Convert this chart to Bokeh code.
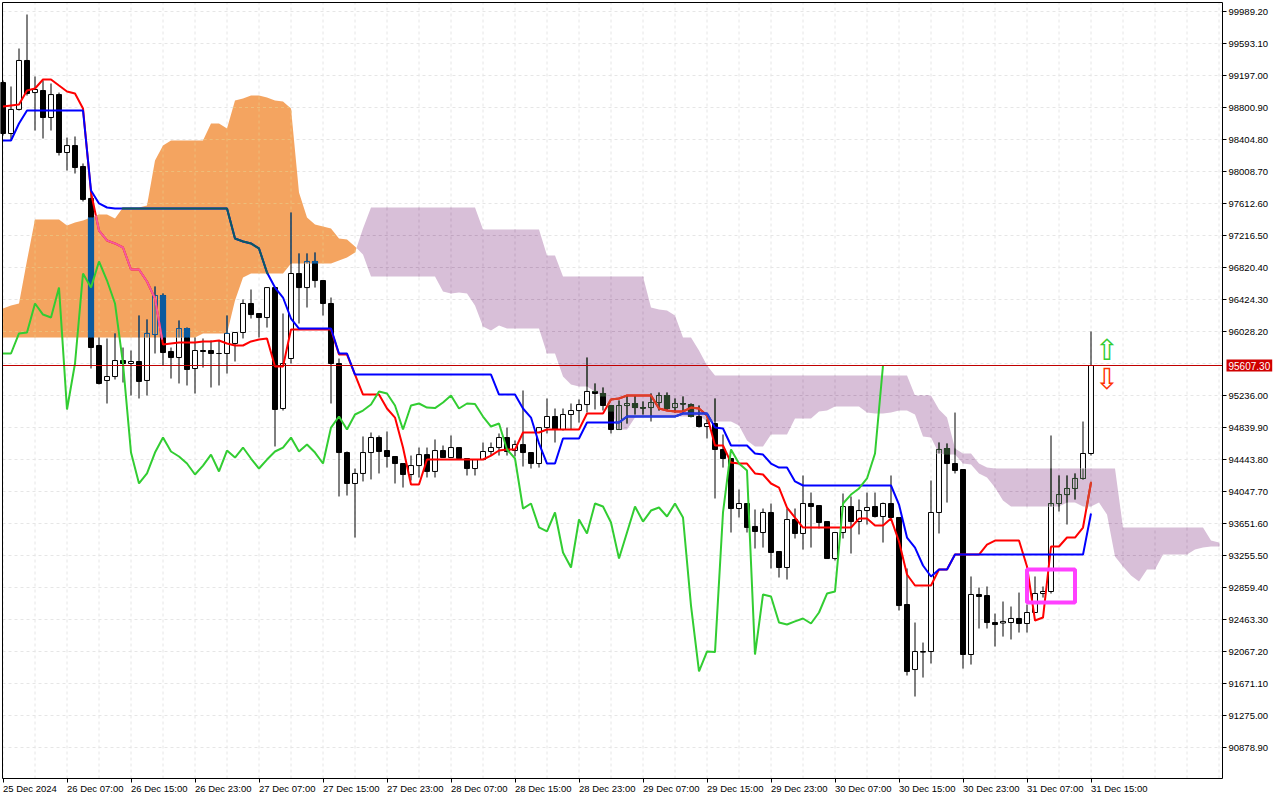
import numpy as np
from bokeh.plotting import figure
from bokeh.models import Range1d, FixedTicker, NumeralTickFormatter, LinearAxis, Text
from bokeh.embed import file_html
from bokeh.resources import INLINE
from bokeh.core.properties import value

# ---------------- data (BTCUSD, H1, first bar 2024-12-25 23:00) ----------------
opens = [99110, 98479, 98777, 99383, 98986, 99011, 98677, 98961, 98244, 98330,
         98071, 97675, 95855, 95422, 95471, 95669, 95632, 95657, 95422, 95991,
         96474, 95781, 95706, 96065, 95570, 95793, 95793, 95756, 95756, 95880,
         96016, 96375, 96251, 96201, 96572, 95075, 95694, 96746, 96572, 96895,
         96659, 96375, 95632, 94530, 94147, 94271, 94530, 94716, 94555, 94481,
         94394, 94258, 94369, 94505, 94296, 94555, 94468, 94592, 94456, 94332,
         94443, 94543, 94592, 94716, 94555, 94629, 94530, 94394, 94839, 94976,
         94815, 95001, 95050, 95124, 95286, 95261, 95112, 94815, 95112, 95137,
         95087, 95087, 95149, 95236, 95087, 95137, 95124, 94976, 94852, 94889,
         94568, 94456, 93837, 93899, 93615, 93540, 93788, 93305, 93107, 93701,
         93528, 93899, 93874, 93676, 93218, 93540, 93862, 93676, 93812, 93862,
         93738, 93899, 93726, 92649, 91844, 92067, 92067, 93788, 94580, 94394,
         94320, 92030, 92773, 92760, 92426, 92420, 92426, 92476, 92414, 92550,
         92785, 92810, 93899, 94010, 94085, 94209, 94518]
highs = [99135, 99061, 99531, 99952, 99185, 99135, 99098, 98986, 98429, 98442,
         98108, 97737, 95954, 95942, 96004, 95830, 95793, 96226, 96177, 96585,
         96499, 95830, 96164, 96077, 95954, 95942, 95917, 95917, 96226, 96016,
         96425, 96548, 96251, 96572, 96572, 96251, 97501, 96994, 96994, 97006,
         96659, 96449, 95694, 94543, 94332, 94729, 94778, 94741, 94791, 94481,
         94394, 94493, 94592, 94592, 94692, 94617, 94741, 94592, 94456, 94443,
         94654, 94654, 94766, 94839, 94679, 95298, 94530, 94839, 95199, 95075,
         95075, 95137, 95187, 95706, 95385, 95335, 95112, 95174, 95236, 95236,
         95162, 95261, 95273, 95273, 95199, 95224, 95137, 95112, 94939, 95199,
         94753, 94456, 94072, 93899, 93825, 93837, 93899, 93305, 93837, 93837,
         94246, 94035, 93874, 93676, 93540, 94023, 93986, 93949, 94035, 94035,
         93911, 94246, 93726, 93095, 92426, 92178, 94184, 94654, 94642, 95025,
         94320, 92996, 92859, 92872, 92537, 92686, 92624, 92797, 92649, 92996,
         92872, 94741, 94246, 94246, 94271, 94914, 96029]
lows = [98454, 98392, 98764, 98949, 98516, 98417, 98516, 98207, 98021, 97984,
        97638, 95570, 95372, 95137, 95434, 95397, 95236, 95199, 95236, 95756,
        95607, 95446, 95385, 95360, 95261, 95582, 95335, 95360, 95508, 95657,
        95942, 96189, 95954, 96077, 94605, 95050, 95632, 96127, 96325, 96572,
        96226, 95137, 93986, 93998, 93478, 94172, 94197, 94271, 94344, 94147,
        94097, 94184, 94221, 94221, 94221, 94468, 94468, 94456, 94246, 94246,
        94443, 94493, 94493, 94493, 94481, 94357, 94332, 94344, 94766, 94654,
        94803, 94815, 94901, 95025, 95063, 95050, 94766, 94815, 94889, 95001,
        95001, 94914, 95050, 95050, 95025, 95025, 94964, 94839, 94704, 93961,
        94344, 93540, 93726, 93540, 93342, 93354, 93095, 92983, 92958, 93466,
        93329, 93354, 93590, 93218, 93194, 93466, 93280, 93516, 93639, 93726,
        93416, 93726, 92575, 91770, 91510, 91745, 91919, 93528, 93911, 94271,
        91856, 91906, 92352, 92352, 92129, 92252, 92216, 92302, 92302, 92550,
        92735, 92785, 93800, 93639, 93949, 94197, 94493]
closes = [98479, 98777, 99383, 98974, 99024, 98677, 98961, 98244, 98330, 98058,
          97663, 95830, 95385, 95471, 95669, 95632, 95657, 95410, 96004, 96474,
          95768, 95706, 96065, 95558, 95793, 95781, 95756, 95756, 96004, 96016,
          96375, 96238, 96201, 96572, 95063, 95632, 96746, 96572, 96895, 96659,
          96375, 95632, 94530, 94147, 94271, 94530, 94716, 94543, 94481, 94394,
          94258, 94369, 94505, 94296, 94555, 94468, 94592, 94456, 94332, 94443,
          94543, 94592, 94716, 94543, 94629, 94530, 94394, 94839, 94976, 94815,
          95001, 95050, 95124, 95286, 95261, 95112, 94815, 95112, 95137, 95087,
          95080, 95149, 95236, 95075, 95137, 95130, 94976, 94852, 94889, 94568,
          94456, 93837, 93899, 93603, 93553, 93788, 93293, 93107, 93701, 93528,
          93899, 93862, 93664, 93218, 93540, 93862, 93676, 93812, 93850, 93738,
          93899, 93726, 92636, 91820, 92067, 92060, 93788, 94568, 94394, 94308,
          92030, 92773, 92748, 92426, 92401, 92440, 92476, 92414, 92550, 92785,
          92810, 93899, 94010, 94085, 94209, 94518, 95607.3]
tenkan = [98814, 98826, 98838, 99011, 99036, 99148, 99148, 99073, 98999, 98974,
          98789, 97749, 97278, 97155, 97118, 97068, 96796, 96796, 96647, 96437,
          95867, 95880, 95892, 95892, 95892, 95905, 95905, 95917, 95880, 95855,
          95855, 95905, 95930, 95942, 95595, 95595, 96053, 96053, 96053, 96053,
          96053, 96053, 95743, 95743, 95495, 95248, 95248, 95248, 95075, 94963,
          94592, 94134, 94134, 94444, 94444, 94444, 94444, 94444, 94444, 94444,
          94444, 94493, 94555, 94568, 94568, 94778, 94778, 94778, 94815, 94815,
          94815, 94815, 94815, 95013, 95013, 95013, 95187, 95199, 95236, 95236,
          95236, 95236, 95075, 95050, 95038, 95038, 95087, 95075, 94988, 94617,
          94617, 94406, 94394, 94394, 94271, 94258, 94147, 94097, 93849, 93725,
          93602, 93602, 93602, 93602, 93602, 93602, 93602, 93713, 93713, 93627,
          93627, 93713, 93429, 93020, 92884, 92884, 92884, 93083, 93083, 93267,
          93267, 93267, 93267, 93391, 93441, 93441, 93441, 93441, 93120, 92451,
          92488, 93367, 93367, 93478, 93478, 93602, 94159]
kijun = [98392, 98392, 98603, 98764, 98764, 98764, 98764, 98764, 98764, 98764,
         98764, 97774, 97613, 97563, 97551, 97551, 97551, 97551, 97551, 97551,
         97551, 97551, 97551, 97551, 97551, 97551, 97551, 97551, 97551, 97179,
         97143, 97118, 97056, 96758, 96572, 96449, 96189, 96065, 96065, 96065,
         96065, 96065, 95756, 95756, 95495, 95495, 95495, 95495, 95495, 95495,
         95495, 95495, 95495, 95495, 95495, 95495, 95495, 95495, 95495, 95495,
         95495, 95495, 95248, 95248, 95248, 95075, 94963, 94642, 94394, 94394,
         94704, 94704, 94704, 94901, 94901, 94901, 94901, 94901, 94976, 94976,
         94976, 94976, 94976, 94976, 94976, 95013, 95013, 95013, 95013, 94839,
         94827, 94617, 94617, 94617, 94518, 94505, 94394, 94344, 94344, 94172,
         94122, 94122, 94122, 94122, 94122, 94122, 94122, 94122, 94122, 94122,
         94122, 94122, 93886, 93478, 93354, 93132, 92996, 93083, 93083, 93267,
         93267, 93267, 93267, 93267, 93267, 93267, 93267, 93267, 93267, 93267,
         93267, 93267, 93267, 93267, 93267, 93267, 93775]
# Senkou spans as displayed (already 26 bars ahead; index = bar position on chart)
span_a = [96313, 96350, 96375, 96907, 97415, 97415, 97415, 97415, 97340, 97377,
          97402, 97439, 97476, 97476, 97427, 97563, 97563, 97563, 97588, 98145,
          98330, 98392, 98392, 98392, 98392, 98392, 98603, 98603, 98541, 98888,
          98912, 98949, 98949, 98924, 98888, 98876, 98789, 97749, 97439, 97352,
          97328, 97303, 97179, 97167, 97081, 96981, 96709, 96709, 96709, 96709,
          96709, 96709, 96709, 96709, 96709, 96524, 96499, 96511, 96499, 96350,
          96090, 96041, 96102, 96065, 96065, 96065, 96065, 96065, 95756, 95756,
          95471, 95372, 95348, 95348, 95286, 95224, 95038, 94815, 94815, 94963,
          94976, 94976, 94976, 94976, 94976, 94976, 94976, 94988, 94914, 94914,
          94914, 94914, 94864, 94679, 94605, 94605, 94753, 94753, 94753, 94951,
          94951, 94951, 95038, 95050, 95100, 95100, 95100, 95100, 95025, 95013,
          95013, 95025, 95050, 95050, 95001, 94729, 94716, 94518, 94505, 94505,
          94394, 94382, 94271, 94221, 94097, 93936, 93862, 93862, 93862, 93862,
          93862, 93862, 93862, 93911, 93911, 93862, 93862, 93911, 93762, 93243,
          93120, 93008, 92934, 93083, 93083, 93267, 93267, 93267, 93267, 93330,
          93354, 93367, 93367]
span_b = [95954, 95954, 95954, 95954, 95954, 95954, 95954, 95954, 95954, 95954,
          95954, 95954, 95954, 95954, 95954, 95954, 95954, 95954, 95954, 95954,
          95954, 95954, 95954, 95954, 95954, 96004, 96004, 96004, 96004, 96412,
          96696, 96746, 96746, 96746, 96746, 96746, 96870, 96870, 96870, 96870,
          96870, 96870, 96907, 96944, 97006, 97303, 97563, 97563, 97563, 97563,
          97563, 97563, 97563, 97563, 97563, 97563, 97563, 97563, 97563, 97563,
          97291, 97291, 97291, 97291, 97291, 97291, 97291, 97291, 96969, 96969,
          96709, 96709, 96709, 96709, 96709, 96709, 96709, 96709, 96709, 96709,
          96709, 96325, 96300, 96288, 96226, 95954, 95954, 95793, 95607, 95483,
          95483, 95483, 95483, 95483, 95483, 95483, 95483, 95483, 95483, 95483,
          95483, 95483, 95483, 95483, 95483, 95483, 95483, 95483, 95483, 95483,
          95483, 95483, 95483, 95483, 95236, 95236, 95236, 95063, 94963, 94580,
          94518, 94518, 94394, 94344, 94332, 94332, 94332, 94332, 94332, 94332,
          94332, 94332, 94332, 94332, 94332, 94332, 94332, 94332, 94332, 94332,
          93602, 93602, 93602, 93602, 93602, 93602, 93602, 93602, 93602, 93602,
          93602, 93441, 93416]
chikou_shift = 26

price_ticks = [99989.20, 99593.10, 99197.00, 98800.90, 98404.80, 98008.70,
               97612.60, 97216.50, 96820.40, 96424.30, 96028.20, 95632.10,
               95236.00, 94839.90, 94443.80, 94047.70, 93651.60, 93255.50,
               92859.40, 92463.30, 92067.20, 91671.10, 91275.00, 90878.90]
time_tick_bars = [0, 8, 16, 24, 32, 40, 48, 56, 64, 72, 80, 88, 96, 104, 112, 120, 128, 136]
time_tick_labels = ["25 Dec 2024", "26 Dec 07:00", "26 Dec 15:00", "26 Dec 23:00",
                    "27 Dec 07:00", "27 Dec 15:00", "27 Dec 23:00", "28 Dec 07:00",
                    "28 Dec 15:00", "28 Dec 23:00", "29 Dec 07:00", "29 Dec 15:00",
                    "29 Dec 23:00", "30 Dec 07:00", "30 Dec 15:00", "30 Dec 23:00",
                    "31 Dec 07:00", "31 Dec 15:00"]
bid_price = 95607.30
box_bars = [128.0, 134.0]          # drawn rectangle object: time anchors (bar index)
box_prices = [93082, 92673]        # price anchors

# ---------------- view / styling ----------------
# The frame covers the whole canvas; the chart area is [X_LEFT, CHART_END] x [Y_CHART, Y_TOP],
# the price scale and time scale are drawn in the strips to the right and below it.
X_START, X_LEFT, CHART_END, X_END = -0.3125, -0.0625, 152.4375, 159.6875
Y_START, Y_CHART, Y_TOP, Y_END = 90223.0, 90495.3, 100100.6, 100125.4
ORANGE = "#f4a460"   # sandybrown  (span A above span B)
PURPLE = "#d8bfd8"   # thistle     (span B above span A)
GRID = "#e6e6e6"
FONT = "Liberation Sans"
FS = "9.5px"
W_BODY = 0.62


def _rgb(h):
    h = h.lstrip("#")
    return tuple(int(h[k:k + 2], 16) for k in (0, 2, 4))


def xor_on(color, cloud_fill):
    c = _rgb(color)
    f = _rgb(cloud_fill)
    return "#%02x%02x%02x" % tuple(ci ^ (255 - fi) for ci, fi in zip(c, f))


n = len(closes)
xs = np.arange(n, dtype=float)
O = np.asarray(opens, float)
H = np.asarray(highs, float)
L = np.asarray(lows, float)
C = np.asarray(closes, float)

# cloud with crossing points inserted
A = np.asarray(span_a, float)
B = np.asarray(span_b, float)
cx = np.arange(len(A), dtype=float)
dx, da, db = [], [], []
for k in range(len(A)):
    dx.append(cx[k]); da.append(A[k]); db.append(B[k])
    if k + 1 < len(A):
        d0 = A[k] - B[k]
        d1 = A[k + 1] - B[k + 1]
        if d0 * d1 < 0:
            t = d0 / (d0 - d1)
            yc = A[k] + t * (A[k + 1] - A[k])
            dx.append(cx[k] + t); da.append(yc); db.append(yc)
dx = np.array(dx); da = np.array(da); db = np.array(db)


def cloud_at(x):
    a = float(np.interp(x, dx, da))
    b = float(np.interp(x, dx, db))
    ok = dx[0] <= x <= dx[-1]
    return min(a, b), max(a, b), (ORANGE if a > b else PURPLE), ok


p = figure(width=1280, height=800,
           x_range=Range1d(X_START, X_END), y_range=Range1d(Y_START, Y_END),
           output_backend="svg", toolbar_location=None,
           x_axis_location=None, y_axis_location=None,
           min_border_left=0, min_border_top=0, min_border_right=0, min_border_bottom=0)
p.background_fill_color = "white"
p.border_fill_color = "white"
p.outline_line_color = None
for g in p.grid:
    g.visible = False

# grid limited to the chart area
grid_x = list(range(0, 153, 4))
p.segment(x0=grid_x, x1=grid_x, y0=Y_CHART, y1=Y_TOP, line_color=GRID, line_width=1, line_dash="3 3")
p.segment(x0=X_LEFT, x1=CHART_END, y0=price_ticks, y1=price_ticks,
          line_color=GRID, line_width=1, line_dash="3 3")

# time scale along the bottom of the chart area
xax = LinearAxis(fixed_location=Y_CHART, ticker=FixedTicker(ticks=time_tick_bars),
                 major_label_overrides={b: s for b, s in zip(time_tick_bars, time_tick_labels)},
                 major_label_orientation=-0.0001, bounds=(X_LEFT, CHART_END))
p.add_layout(xax, "below")
# price scale at the right edge of the chart area
scale_ticks = [t for t in price_ticks if abs(t - bid_price) > 150]
yax = LinearAxis(fixed_location=CHART_END, ticker=FixedTicker(ticks=scale_ticks),
                 formatter=NumeralTickFormatter(format="0.00"), bounds=(Y_CHART, Y_TOP))
p.add_layout(yax, "right")

for ax in (xax, yax):
    ax.axis_line_color = "black"
    ax.major_tick_line_color = "black"
    ax.major_tick_out = 4
    ax.major_tick_in = 0
    ax.minor_tick_out = 0
    ax.minor_tick_in = 0
    ax.major_label_text_font = FONT
    ax.major_label_text_font_size = FS
    ax.major_label_text_color = "black"
xax.major_label_standoff = 6
yax.major_label_standoff = 2

# cloud
p.varea(x=dx, y1=da, y2=np.where(da >= db, db, da), fill_color=ORANGE)
p.varea(x=dx, y1=db, y2=np.where(db >= da, da, db), fill_color=PURPLE)

# grid lines as seen through the cloud
vg = dict(x0=[], y0=[], x1=[], y1=[], c=[])
for gx in grid_x:
    lo, hi, fill, ok = cloud_at(gx)
    if ok and hi - lo > 1:
        vg["x0"].append(gx); vg["x1"].append(gx)
        vg["y0"].append(lo); vg["y1"].append(hi)
        vg["c"].append(xor_on(GRID, fill))
samp = np.linspace(dx[0], dx[-1], 6001)
sa = np.interp(samp, dx, da); sb = np.interp(samp, dx, db)
slo = np.minimum(sa, sb); shi = np.maximum(sa, sb)
for pt in price_ticks:
    inside = (slo <= pt) & (pt <= shi)
    k = 0
    while k < len(samp):
        if inside[k]:
            j = k
            while j + 1 < len(samp) and inside[j + 1]:
                j += 1
            if j > k:
                mid = 0.5 * (samp[k] + samp[j])
                fill = ORANGE if np.interp(mid, dx, da) > np.interp(mid, dx, db) else PURPLE
                vg["x0"].append(samp[k]); vg["x1"].append(samp[j])
                vg["y0"].append(pt); vg["y1"].append(pt)
                vg["c"].append(xor_on(GRID, fill))
            k = j + 1
        else:
            k += 1
p.segment(x0=vg["x0"], y0=vg["y0"], x1=vg["x1"], y1=vg["y1"], line_color=vg["c"],
          line_width=1, line_dash="3 3")

# candles
bull = C >= O
top = np.maximum(O, C)
bot = np.minimum(O, C)
p.segment(x0=xs, y0=L, x1=xs, y1=H, line_color="black", line_width=1)
p.vbar(x=xs, width=W_BODY, top=top, bottom=bot,
       fill_color=["white" if b else "black" for b in bull], line_color="black", line_width=1)

# candle parts seen through the cloud
qd = dict(l=[], r=[], t=[], b=[], c=[])
sg = dict(x0=[], y0=[], x1=[], y1=[], c=[])
half = W_BODY / 2
padx = 0.08
for i in range(n):
    lo, hi, fill, ok = cloud_at(xs[i])
    if not ok or hi - lo <= 0:
        continue
    m = xor_on("#000000", fill)
    y0 = max(L[i], lo); y1 = min(H[i], hi)
    if y1 > y0:
        sg["x0"].append(xs[i]); sg["x1"].append(xs[i]); sg["y0"].append(y0); sg["y1"].append(y1); sg["c"].append(m)
    y0 = max(bot[i], lo); y1 = min(top[i], hi)
    if y1 > y0:
        qd["l"].append(xs[i] - half - padx); qd["r"].append(xs[i] + half + padx)
        qd["t"].append(y1); qd["b"].append(y0)
        qd["c"].append(xor_on("#ffffff", fill) if bull[i] else m)
        for ex in (xs[i] - half, xs[i] + half):
            sg["x0"].append(ex); sg["x1"].append(ex); sg["y0"].append(y0); sg["y1"].append(y1); sg["c"].append(m)
    if lo <= top[i] <= hi:
        sg["x0"].append(xs[i] - half); sg["x1"].append(xs[i] + half)
        sg["y0"].append(top[i]); sg["y1"].append(top[i]); sg["c"].append(m)
    if lo <= bot[i] <= hi:
        sg["x0"].append(xs[i] - half); sg["x1"].append(xs[i] + half)
        sg["y0"].append(bot[i]); sg["y1"].append(bot[i]); sg["c"].append(m)
if qd["l"]:
    p.quad(left=qd["l"], right=qd["r"], top=qd["t"], bottom=qd["b"], fill_color=qd["c"], line_color=None)
if sg["x0"]:
    p.segment(x0=sg["x0"], y0=sg["y0"], x1=sg["x1"], y1=sg["y1"], line_color=sg["c"], line_width=1)


def cloud_pieces(xv, yv, color, nsub=16):
    ox, oy, oc = [], [], []
    cur = None
    for k in range(len(xv) - 1):
        for s in range(nsub):
            t0 = s / nsub
            t1 = (s + 1) / nsub
            x0 = xv[k] + (xv[k + 1] - xv[k]) * t0
            x1 = xv[k] + (xv[k + 1] - xv[k]) * t1
            y0 = yv[k] + (yv[k + 1] - yv[k]) * t0
            y1 = yv[k] + (yv[k + 1] - yv[k]) * t1
            lo, hi, fill, ok = cloud_at(0.5 * (x0 + x1))
            ym = 0.5 * (y0 + y1)
            if ok and lo <= ym <= hi:
                c = xor_on(color, fill)
                if cur is not None and cur[2] == c and abs(cur[0][-1] - x0) < 1e-9:
                    cur[0].append(x1); cur[1].append(y1)
                else:
                    cur = ([x0, x1], [y0, y1], c)
                    ox.append(cur[0]); oy.append(cur[1]); oc.append(c)
            else:
                cur = None
    return ox, oy, oc


for series, col in ((tenkan, "#ff0000"), (kijun, "#0000ff")):
    yv = np.asarray(series, float)
    p.line(xs, yv, line_color=col, line_width=2)
    ox, oy, oc = cloud_pieces(xs, yv, col)
    if ox:
        p.multi_line(xs=ox, ys=oy, line_color=oc, line_width=2, line_cap="round")

# chikou span (close plotted 26 bars back)
p.line(xs[:n - chikou_shift], C[chikou_shift:], line_color="#32cd32", line_width=2)

# bid line
p.segment(x0=[X_LEFT], x1=[CHART_END], y0=[bid_price], y1=[bid_price], line_color="#c00000", line_width=1)

# chart frame (left and top; right = price axis line, bottom = time axis line)
p.segment(x0=[X_LEFT, X_LEFT], x1=[X_LEFT, CHART_END], y0=[Y_CHART, Y_TOP], y1=[Y_TOP, Y_TOP],
          line_color="black", line_width=1)

# buy / sell arrows next to the last bar
p.text(x=[n + 1], y=[bid_price], text=["\u21e7"], text_color="#33cc33",
       text_font=value("DejaVu Sans"), text_font_size=value("29px"),
       text_align="center", text_baseline="middle", y_offset=-16)
p.text(x=[n + 1], y=[bid_price], text=["\u21e9"], text_color="#ff3300",
       text_font=value("DejaVu Sans"), text_font_size=value("29px"),
       text_align="center", text_baseline="middle", y_offset=13)

# drawn rectangle object
p.quad(left=[box_bars[0]], right=[box_bars[1]], top=[box_prices[0]], bottom=[box_prices[1]],
       fill_alpha=0, line_color="#ff40ff", line_width=4)

# bid price tag on the price scale
tag_kw = dict(x=[CHART_END], y=[bid_price], text=["%.2f" % bid_price], x_offset=4,
              text_align="left", text_baseline="middle", text_color="white",
              text_font=value(FONT), text_font_size=value("10px"), level="overlay")
if "background_fill_color" in Text.properties():
    tag_kw.update(background_fill_color="#d00000")
    if "padding" in Text.properties():
        tag_kw.update(padding=2)
p.text(**tag_kw)

open("out.html", "w").write(file_html(p, INLINE))
